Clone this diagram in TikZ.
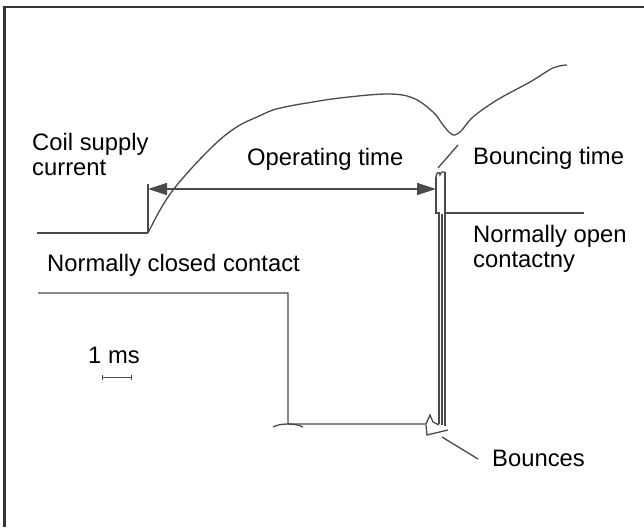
\documentclass[tikz,border=0pt]{standalone}
\usepackage{fontspec}
\setmainfont{Liberation Sans}
\usepackage{xcolor}
\usetikzlibrary{arrows.meta}
\definecolor{linegray}{HTML}{4A4A4A}

\begin{document}
\begin{tikzpicture}[x=1pt,y=-1pt,
    wave/.style={draw=linegray,line width=1.3pt},
    lbl/.style={anchor=base west,inner sep=0pt,font=\fontsize{23.8}{28}\selectfont},
    dim/.style={wave,{Triangle[length=19pt,width=12pt]}-{Triangle[length=19pt,width=12pt]}}]
\useasboundingbox (0,0) rectangle (644,527);
\draw[line width=2.5pt,draw=black!80] (4.5,527) -- (4.5,7) -- (644,7);
% coil supply current
\draw[wave] (37,233) -- (148,233);
\draw[wave] plot[smooth,tension=0.6] coordinates {(148,233) (160,210) (173,190) (190,170)
    (207,152) (223,137) (240,125) (257,117) (273,110) (290,106) (307,103) (340,98)
    (387,94) (413,98) (433,112) (443,125) (450,133) (455,135) (462,130) (473,117)
    (497,100) (530,82) (553,68) (567,65)};
% operating time
\coordinate (opl) at (148,189);
\coordinate (opr) at (436,189);
\draw[wave] (148,233) -- (148,184);
\draw[dim] (opl) -- (opr);
% contact bars
\draw[wave] (436,177) -- (436,213) -- (439,213) -- (439,424);
\draw[wave] (442,214) -- (442,425);
\draw[wave] (445,172) -- (445,426);
\draw[wave] (436,177) .. controls (436,172) and (440,171) .. (440,175)
    .. controls (441,172) and (443,171) .. (445,172);
\draw[wave] (445,213) -- (584,213);
\coordinate (bt1) at (458,145);
\coordinate (bt2) at (438,168);
\draw[wave] (bt1) -- (bt2);
% normally closed contact
\draw[wave] (38,293) -- (288,293) -- (288,424) -- (426,424) -- (430,415) -- (433,422) -- (439,425);
\draw[wave] (273,427) .. controls (280,423) and (296,423) .. (303,427);
\draw[wave] (426,425) -- (427,435) -- (448,430);
\coordinate (bn1) at (442,437);
\coordinate (bn2) at (478,459);
\draw[wave] (bn1) -- (bn2);
% scale
\coordinate (ms1) at (102,377);
\coordinate (ms2) at (132,377);
\draw[draw=linegray,line width=1pt,{Bar[width=5pt]}-{Bar[width=5pt]}] (ms1) -- (ms2);
% labels
\node[lbl] (coil) at (32,150) {Coil supply};
\node[lbl] (coil2) at (32,175) {current};
\node[lbl] (optime) at (247,165) {Operating time};
\node[lbl] (bounce) at (473,164) {Bouncing time};
\node[lbl] (noopen) at (473,242) {Normally open};
\node[lbl] (noopen2) at (473,267) {contactny};
\node[lbl] (ncl) at (47,271) {Normally closed contact};
\node[lbl] (ms) at (88,363) {1 ms};
\node[lbl] (bnc) at (492,466) {Bounces};
\end{tikzpicture}
\end{document}
